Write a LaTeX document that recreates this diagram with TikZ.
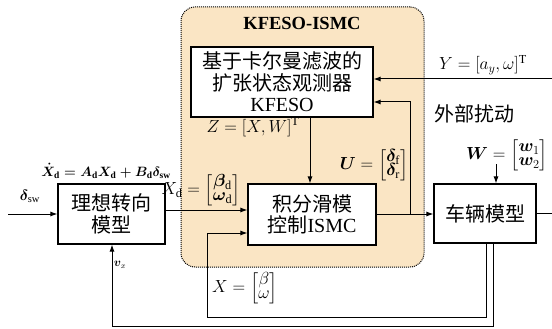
\RequirePackage{fix-cm}
\documentclass[tikz,border=0pt]{standalone}
\usepackage{amsmath,bm}
\usepackage{fontspec}
\setmainfont{Liberation Serif}
\newfontfamily\cjk{Noto Sans CJK SC}
\usetikzlibrary{arrows.meta}
\definecolor{orangebg}{RGB}{250,229,196}
\begin{document}
\begin{tikzpicture}[x=1pt,y=-1pt,
  blk/.style={draw, line width=1.1pt, fill=white, inner sep=0pt, align=center,
    font=\cjk\fontsize{20}{21.5}\selectfont},
  arr/.style={-{Latex[length=7pt,width=5pt]}, line width=1pt},
  ln/.style={line width=1pt},
  lbl/.style={inner sep=0pt, font=\fontsize{17.5}{19}\selectfont},
  cjklbl/.style={inner sep=0pt, font=\cjk\fontsize{20}{22}\selectfont}]
\useasboundingbox (0,0) rectangle (552,329);

% background group
\node[draw, densely dotted, line width=1pt, fill=orangebg, rounded corners=14pt,
  minimum width=243pt, minimum height=260pt, inner sep=0pt] (bg) at (302.5,137) {};
\node[inner sep=0pt, font=\bfseries\fontsize{18.5}{20}\selectfont] (title) at (302,23) {KFESO-ISMC};

% blocks
\node[blk, minimum width=182pt, minimum height=70pt] (eso) at (282,82)
  {基于卡尔曼滤波的\\扩张状态观测器\\{\rmfamily KFESO}};
\node[blk, minimum width=128pt, minimum height=61pt] (ismc) at (312,214.5)
  {积分滑模\\控制{\rmfamily ISMC}};
\node[blk, minimum width=107pt, minimum height=60pt] (ideal) at (111.5,214)
  {理想转向\\模型};
\node[blk, minimum width=102pt, minimum height=59pt] (veh) at (485,213.5)
  {车辆模型};

% coordinates
\coordinate (in) at (8,214);
\coordinate (yin) at (552,79);
\coordinate (out) at (552,213);
\coordinate (wtop) at (496,164);
\coordinate (ubr) at (410,214);
\coordinate (ufb) at (410,102);
\coordinate (xd) at (0,210);
\coordinate (xlow) at (0,233);
\coordinate (fb1a) at (486,317);
\coordinate (fb1b) at (207,317);
\coordinate (fb2a) at (493,326);
\coordinate (fb2b) at (112,326);

% connectors
\draw[arr] (in) -- (ideal.west |- in);
\draw[arr] (ideal.east |- xd) -- (ismc.west |- xd);
\draw[arr] (ismc.east |- ubr) -- (veh.west |- ubr);
\draw[arr] (ubr) -- (ufb) -- (eso.east |- ufb);
\draw[arr] (yin) -- (eso.east |- yin);
\draw[arr] (eso.south -| 310,0) -- (ismc.north -| 310,0);
\draw[arr] (wtop) -- (wtop |- veh.north);
\draw[ln] (veh.east |- out) -- (out);
\draw[arr] (veh.south -| fb1a) -- (fb1a) -- (fb1b) -- (fb1b |- xlow) -- (ismc.west |- xlow);
\draw[arr] (veh.south -| fb2a) -- (fb2a) -- (fb2b) -- (ideal.south -| fb2b);

% labels
\node[inner sep=0pt, font=\fontsize{15}{16}\selectfont] (lsw) at (30,196) {$\bm{\delta}_{\mathrm{sw}}$};
\node[inner sep=0pt, font=\fontsize{13.5}{15}\selectfont\boldmath] (leq) at (106,171)
  {$\dot{X}_{\mathrm{d}}=A_{\mathrm{d}}X_{\mathrm{d}}+B_{\mathrm{d}}\delta_{\mathrm{sw}}$};
\node[lbl] (lxd) at (201,190) {$X_{\mathrm{d}}=\begin{bmatrix}\bm{\beta}_{\mathrm{d}}\\[-5pt] \bm{\omega}_{\mathrm{d}}\end{bmatrix}$};
\node[lbl] (lz) at (253,127) {$Z=[X,W]^{\mathrm{T}}$};
\node[lbl] (lu) at (374,165) {$\bm{U}=\begin{bmatrix}\bm{\delta}_{\mathrm{f}}\\[-5pt] \bm{\delta}_{\mathrm{r}}\end{bmatrix}$};
\node[lbl] (ly) at (483,65) {$Y=[a_y,\omega]^{\mathrm{T}}$};
\node[cjklbl] (ldist) at (474,114) {外部扰动};
\node[lbl] (lw) at (507,155) {$\bm{W}=\begin{bmatrix}\bm{w}_1\\[-5pt] \bm{w}_2\end{bmatrix}$};
\node[inner sep=0pt, font=\fontsize{12}{13}\selectfont] (lvx) at (120,265) {$\bm{v}_x$};
\node[lbl] (lx) at (245,288) {$X=\begin{bmatrix}\beta\\[-5pt] \omega\end{bmatrix}$};
\end{tikzpicture}
\end{document}
